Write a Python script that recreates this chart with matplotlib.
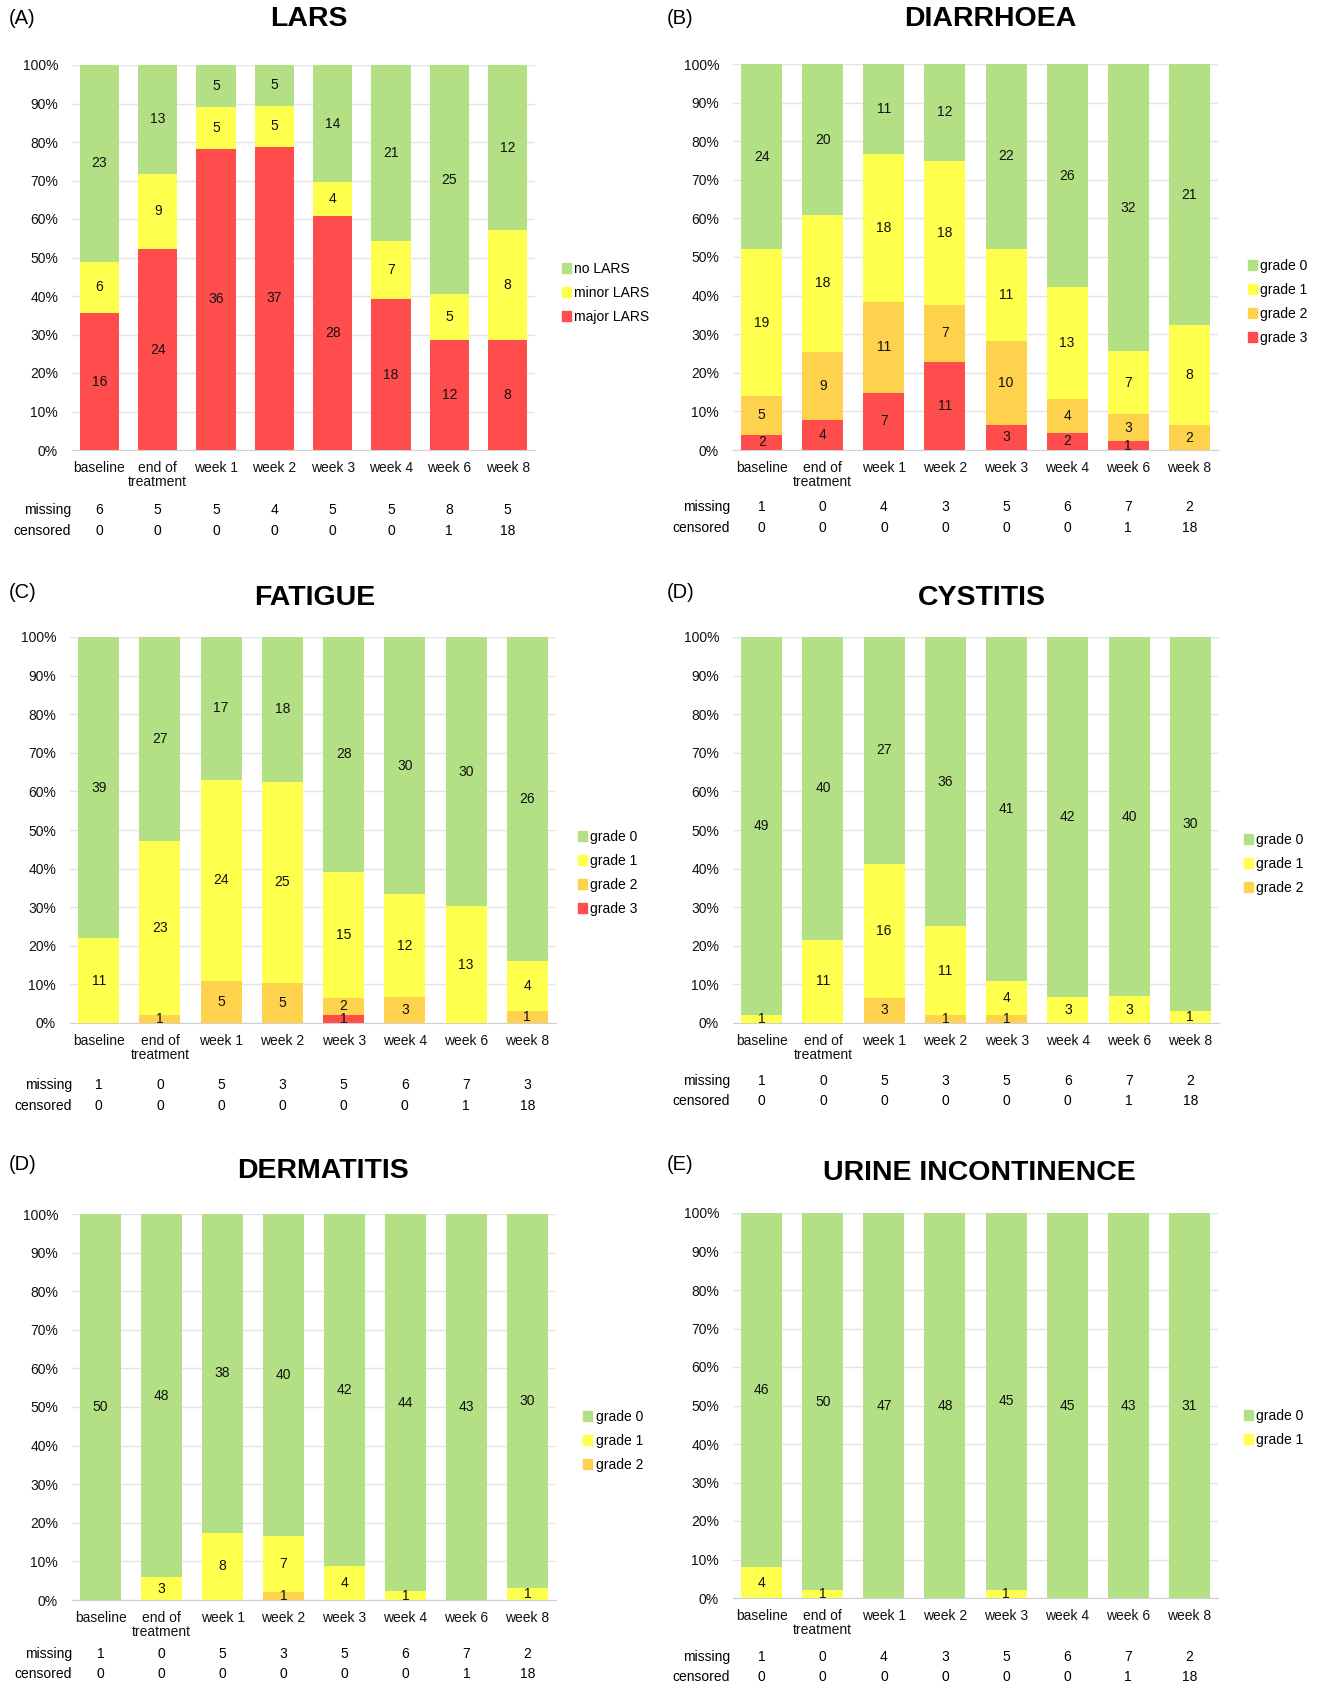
import matplotlib
matplotlib.use('Agg')
import matplotlib.pyplot as plt
from matplotlib.patches import Patch
from matplotlib.transforms import blended_transform_factory
import numpy as np

plt.rcParams['font.family'] = ['Liberation Sans', 'DejaVu Sans']

W, H = 1319, 1687

categories = ['baseline', 'end of\ntreatment', 'week 1', 'week 2',
              'week 3', 'week 4', 'week 6', 'week 8']
censored = [0, 0, 0, 0, 0, 0, 1, 18]

# LARS
lars_major = [16, 24, 36, 37, 28, 18, 12, 8]
lars_minor = [6, 9, 5, 5, 4, 7, 5, 8]
lars_no = [23, 13, 5, 5, 14, 21, 25, 12]
lars_missing = [6, 5, 5, 4, 5, 5, 8, 5]

# diarrhoea
diar_g3 = [2, 4, 7, 11, 3, 2, 1, 0]
diar_g2 = [5, 9, 11, 7, 10, 4, 3, 2]
diar_g1 = [19, 18, 18, 18, 11, 13, 7, 8]
diar_g0 = [24, 20, 11, 12, 22, 26, 32, 21]
diar_missing = [1, 0, 4, 3, 5, 6, 7, 2]

# fatigue
fat_g3 = [0, 0, 0, 0, 1, 0, 0, 0]
fat_g2 = [0, 1, 5, 5, 2, 3, 0, 1]
fat_g1 = [11, 23, 24, 25, 15, 12, 13, 4]
fat_g0 = [39, 27, 17, 18, 28, 30, 30, 26]
fat_missing = [1, 0, 5, 3, 5, 6, 7, 3]

# cystitis
cys_g2 = [0, 0, 3, 1, 1, 0, 0, 0]
cys_g1 = [1, 11, 16, 11, 4, 3, 3, 1]
cys_g0 = [49, 40, 27, 36, 41, 42, 40, 30]
cys_missing = [1, 0, 5, 3, 5, 6, 7, 2]

# dermatitis
der_g2 = [0, 0, 0, 1, 0, 0, 0, 0]
der_g1 = [0, 3, 8, 7, 4, 1, 0, 1]
der_g0 = [50, 48, 38, 40, 42, 44, 43, 30]
der_missing = [1, 0, 5, 3, 5, 6, 7, 2]

# urine incontinence
uri_g1 = [4, 1, 0, 0, 1, 0, 0, 0]
uri_g0 = [46, 50, 47, 48, 45, 45, 43, 31]
uri_missing = [1, 0, 4, 3, 5, 6, 7, 2]

GREEN = '#B3DF85'
YELLOW = '#FFFF4D'
ORANGE = '#FFD24D'
RED = '#FF4D4D'

fig = plt.figure(figsize=(W / 100, H / 100), dpi=100)


def fy(ypx):
    return 1 - ypx / H


def panel(box, tag, tag_xy, title, title_xy, series, missing, leg_xy, leg_dy,
          miss_y, label_x):
    x0, y0, x1, y1 = box
    ax = fig.add_axes([x0 / W, 1 - y1 / H, (x1 - x0) / W, (y1 - y0) / H])
    x = np.arange(len(categories))
    totals = np.sum([s[1] for s in series], axis=0)
    pcts = [np.array(vals) / totals * 100 for _, vals, _ in series]
    tops = np.cumsum(pcts, axis=0)
    # draw cumulative bars top segment first, so stacked segments have no seams
    for k in range(len(series) - 1, -1, -1):
        ax.bar(x, tops[k], width=0.67, color=series[k][2], linewidth=0, zorder=2)
    for k, (name, vals, col) in enumerate(series):
        for i, v in enumerate(vals):
            if v > 0:
                ax.text(x[i], tops[k][i] - pcts[k][i] / 2, str(v), ha='center',
                        va='center', fontsize=10, color='#111111', zorder=3)
    ax.set_xlim(-0.47, len(categories) - 0.53)
    ax.set_ylim(0, 100)
    ax.set_yticks(np.arange(0, 101, 10))
    ax.set_yticklabels([f'{v}%' for v in range(0, 101, 10)])
    ax.set_xticks(x)
    ax.set_xticklabels(categories, linespacing=1.0)
    ax.tick_params(length=0, labelsize=10, colors='#111111')
    ax.tick_params(axis='y', pad=10)
    ax.tick_params(axis='x', pad=8)
    ax.grid(axis='y', color='#E4E4E4', linewidth=1, zorder=0)
    for s in ['top', 'right', 'left']:
        ax.spines[s].set_visible(False)
    ax.spines['bottom'].set_color('#D0D0D0')
    ax.spines['bottom'].set_zorder(4)

    fig.text(tag_xy[0] / W, fy(tag_xy[1]), tag, fontsize=14.5, ha='left', va='center')
    fig.text(title_xy[0] / W, fy(title_xy[1]), title, fontsize=20.5,
             fontweight='bold', ha='center', va='center')

    handles = [Patch(color=c) for _, _, c in series][::-1]
    labels = [n for n, _, _ in series][::-1]
    fig.legend(handles, labels, loc='upper left',
               bbox_to_anchor=(leg_xy[0] / W, fy(leg_xy[1])),
               frameon=False, fontsize=10, handlelength=0.65, handleheight=0.65,
               handletextpad=0.25, labelspacing=(leg_dy - 14) / 14,
               borderpad=0, borderaxespad=0)

    tr = blended_transform_factory(ax.transData, fig.transFigure)
    for row, vals, yy in [('missing', missing, miss_y[0]),
                          ('censored', censored, miss_y[1])]:
        fig.text(label_x / W, fy(yy), row, ha='right', va='center', fontsize=10)
        for i, v in enumerate(vals):
            ax.text(x[i], fy(yy), str(v), transform=tr, ha='center',
                    va='center', fontsize=10)
    return ax


panel((72, 65, 535, 450), '(A)', (9, 19), 'LARS', (309, 19),
      [('major LARS', lars_major, RED), ('minor LARS', lars_minor, YELLOW),
       ('no LARS', lars_no, GREEN)],
      lars_missing, (562, 262), 24, (510, 531), 71)

panel((733, 64, 1218, 450), '(B)', (667, 19), 'DIARRHOEA', (990, 19),
      [('grade 3', diar_g3, RED), ('grade 2', diar_g2, ORANGE),
       ('grade 1', diar_g1, YELLOW), ('grade 0', diar_g0, GREEN)],
      diar_missing, (1248, 259), 24, (507, 528), 730)

panel((70, 637, 556, 1023), '(C)', (9, 592), 'FATIGUE', (315, 598),
      [('grade 3', fat_g3, RED), ('grade 2', fat_g2, ORANGE),
       ('grade 1', fat_g1, YELLOW), ('grade 0', fat_g0, GREEN)],
      fat_missing, (578, 830), 24, (1085, 1106), 72)

panel((733, 637, 1219, 1023), '(D)', (667, 592), 'CYSTITIS', (982, 598),
      [('grade 2', cys_g2, ORANGE), ('grade 1', cys_g1, YELLOW),
       ('grade 0', cys_g0, GREEN)],
      cys_missing, (1244, 833), 24, (1081, 1101), 730)

panel((72, 1214, 556, 1600), '(D)', (9, 1164), 'DERMATITIS', (323, 1171),
      [('grade 2', der_g2, ORANGE), ('grade 1', der_g1, YELLOW),
       ('grade 0', der_g0, GREEN)],
      der_missing, (583, 1410), 24, (1654, 1674), 72)

panel((733, 1213, 1218, 1598), '(E)', (667, 1164), 'URINE INCONTINENCE', (979, 1173),
      [('grade 1', uri_g1, YELLOW), ('grade 0', uri_g0, GREEN)],
      uri_missing, (1244, 1409), 24, (1657, 1677), 730)

fig.savefig('out.png', dpi=100)
